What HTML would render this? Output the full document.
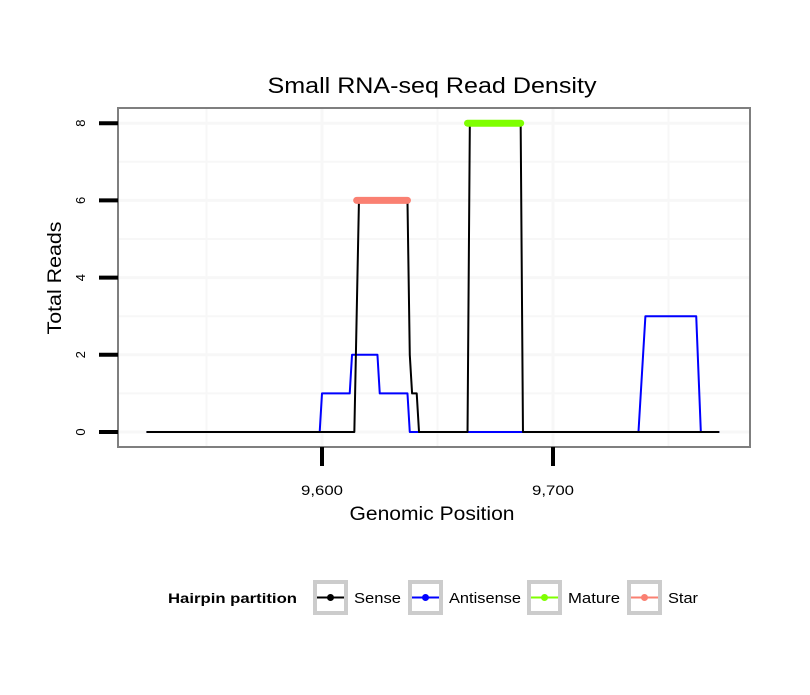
<!DOCTYPE html>
<html><head><meta charset="utf-8"><style>
body{margin:0;background:#fff;}
svg text{font-family:"Liberation Sans",sans-serif;}
</style></head><body>
<svg id="chart" width="810" height="690" xmlns="http://www.w3.org/2000/svg">
<rect width="810" height="690" fill="#fff"/>
<text x="432" y="93" font-size="22" text-anchor="middle" textLength="329" lengthAdjust="spacingAndGlyphs">Small RNA-seq Read Density</text>
<g id="grid"></g>
<g id="series"></g>
<rect x="118" y="108" width="632" height="339" fill="none" stroke="#7f7f7f" stroke-width="2"/>
<g id="axes"></g>
<text x="432" y="520" font-size="19" text-anchor="middle" textLength="165" lengthAdjust="spacingAndGlyphs">Genomic Position</text>
<text transform="translate(61,278) rotate(-90)" font-size="19" text-anchor="middle" textLength="113" lengthAdjust="spacingAndGlyphs">Total Reads</text>
<g>
<text x="168" y="603" font-size="14" font-weight="bold" textLength="129" lengthAdjust="spacingAndGlyphs">Hairpin partition</text>
<g id="legend"></g>
</g>
</svg>
<script>
const senseX=[9524,9614,9616,9637,9638,9639,9641,9642,9663,9664,9686,9687,9772];
const senseY=[0,0,6,6,2,1,1,0,0,8,8,0,0];
const antiX=[9524,9599,9600,9612,9613,9624,9625,9637,9638,9737,9740,9762,9764,9772];
const antiY=[0,0,1,1,2,2,1,1,0,0,3,3,0,0];
const matureX=[9663,9686];const matureY=[8,8];
const starX=[9615,9637];const starY=[6,6];
const xTicks=[9600,9700];const xTickLabels=["9,600","9,700"];
const xMinor=[9550,9650,9750];
const yTicks=[0,2,4,6,8];const yMinor=[1,3,5,7];
const legendLabels=["Sense","Antisense","Mature","Star"];
const legendColors=["#000000","#0000ff","#7fff00","#fa8072"];
const legendWidths=[47,72,52,30];

const NS="http://www.w3.org/2000/svg";
const xs=v=>322+(v-9600)*2.31;
const ys=v=>432-v*38.6;
function mk(tag,attrs,parent){const e=document.createElementNS(NS,tag);for(const k in attrs)e.setAttribute(k,attrs[k]);parent.appendChild(e);return e;}
const grid=document.getElementById('grid'),series=document.getElementById('series'),axes=document.getElementById('axes'),legend=document.getElementById('legend');
xMinor.concat(xTicks).forEach(v=>{const l=mk('line',{x1:xs(v),x2:xs(v),y1:108,y2:447,stroke:'#f7f7f7','stroke-width':xTicks.includes(v)?3:2},grid);

});
yMinor.concat(yTicks).forEach(v=>{const l=mk('line',{x1:118,x2:750,y1:ys(v),y2:ys(v),stroke:'#f7f7f7','stroke-width':yTicks.includes(v)?3:2},grid);

});
function path(X,Y,color,w,name,cap){const d=X.map((x,i)=>(i?'L':'M')+xs(x)+' '+ys(Y[i])).join(' ');const p=mk('path',{d:d,fill:'none',stroke:color,'stroke-width':w,'stroke-linecap':cap||'butt','stroke-linejoin':'round'},series);

}
path(antiX,antiY,'#0000ff',2,'antisense-line');
path(senseX,senseY,'#000000',2,'sense-line');
path(matureX,matureY,'#7fff00',7,'mature-line','round');
path(starX,starY,'#fa8072',7,'star-line','round');
yTicks.forEach(v=>{const t=mk('line',{x1:99,x2:118,y1:ys(v),y2:ys(v),stroke:'#000','stroke-width':4},axes);


const tx=mk('text',{transform:`translate(85,${ys(v)}) rotate(-90)`,'font-size':13,'text-anchor':'middle'},axes);tx.textContent=v;

});
xTicks.forEach((v,i)=>{const t=mk('line',{x1:xs(v),x2:xs(v),y1:447,y2:466,stroke:'#000','stroke-width':4},axes);


const tx=mk('text',{x:xs(v),y:495,'font-size':14,'text-anchor':'middle',textLength:42,lengthAdjust:'spacingAndGlyphs'},axes);tx.textContent=xTickLabels[i];

});
const lx=[313,408,527,627];
legendLabels.forEach((lab,i)=>{const g=mk('g',{},legend);


const x=lx[i];
mk('rect',{x:x+2,y:582,width:31,height:31,fill:'#fff',stroke:'#cccccc','stroke-width':4},g);
mk('line',{x1:x+4,x2:x+31,y1:597.5,y2:597.5,stroke:legendColors[i],'stroke-width':2},g);
mk('circle',{cx:x+17.5,cy:597.5,r:3.5,fill:legendColors[i]},g);
const t=mk('text',{x:x+41,y:603,'font-size':15,textLength:legendWidths[i],lengthAdjust:'spacingAndGlyphs'},g);t.textContent=lab;});
</script>
</body></html>
